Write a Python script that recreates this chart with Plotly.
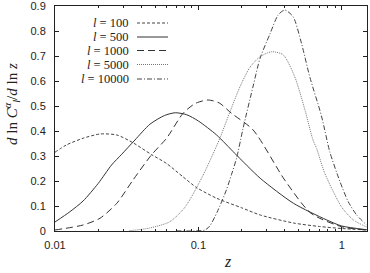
import plotly.graph_objects as go

labels = ["<i>l</i> = 100", "<i>l</i> = 500", "<i>l</i> = 1000", "<i>l</i> = 5000", "<i>l</i> = 10000"]

x_tick_vals = [0.01, 0.1, 1]
x_tick_text = ["0.01", "0.1", "1"]
y_tick_vals = [0, 0.1, 0.2, 0.3, 0.4, 0.5, 0.6, 0.7, 0.8, 0.9]
y_tick_text = ["0", "0.1", "0.2", "0.3", "0.4", "0.5", "0.6", "0.7", "0.8", "0.9"]

z100 = [0.01, 0.012, 0.0157, 0.0206, 0.027, 0.035, 0.047, 0.06, 0.078, 0.097, 0.134, 0.2, 0.27, 0.46, 0.7, 1.0, 1.5]
v100 = [0.315, 0.344, 0.371, 0.388, 0.384, 0.353, 0.306, 0.27, 0.217, 0.174, 0.131, 0.093, 0.064, 0.032, 0.018, 0.01, 0.004]

z500 = [0.01, 0.0127, 0.0157, 0.020, 0.0248, 0.0292, 0.0361, 0.0459, 0.058, 0.069, 0.083, 0.1, 0.134, 0.18, 0.27, 0.46, 0.78, 1.0, 1.5]
v500 = [0.036, 0.077, 0.12, 0.19, 0.264, 0.307, 0.364, 0.427, 0.462, 0.473, 0.465, 0.44, 0.384, 0.31, 0.211, 0.111, 0.045, 0.02, 0.005]

z1000 = [0.01, 0.0157, 0.0206, 0.027, 0.035, 0.047, 0.060, 0.078, 0.095, 0.117, 0.14, 0.17, 0.241, 0.40, 0.61, 1.0, 1.5]
v1000 = [0.004, 0.024, 0.051, 0.111, 0.204, 0.304, 0.371, 0.47, 0.51, 0.524, 0.512, 0.471, 0.404, 0.204, 0.071, 0.017, 0.004]

z5000 = [0.033, 0.0459, 0.0632, 0.0806, 0.108, 0.141, 0.157, 0.195, 0.229, 0.269, 0.324, 0.39, 0.47, 0.55, 0.63, 0.667, 0.761, 0.995, 1.2, 1.5]
v5000 = [0.001, 0.012, 0.037, 0.095, 0.224, 0.37, 0.44, 0.577, 0.655, 0.697, 0.717, 0.705, 0.617, 0.49, 0.364, 0.331, 0.231, 0.097, 0.045, 0.015]

z10000 = [0.07, 0.111, 0.12, 0.135, 0.157, 0.17, 0.1846, 0.205, 0.241, 0.269, 0.315, 0.36, 0.40, 0.458, 0.524, 0.598, 0.722, 0.825, 0.968, 1.11, 1.27, 1.49]
v10000 = [0.0005, 0.004, 0.02, 0.075, 0.165, 0.225, 0.291, 0.411, 0.58, 0.69, 0.787, 0.864, 0.884, 0.857, 0.75, 0.617, 0.46, 0.317, 0.2, 0.117, 0.064, 0.024]

series = [(z100, v100), (z500, v500), (z1000, v1000), (z5000, v5000), (z10000, v10000)]
styles = [
    dict(color="#444", dash="3px,2px"),
    dict(color="#333", dash="solid"),
    dict(color="#333", dash="7px,4px"),
    dict(color="#777", dash="1px,1px"),
    dict(color="#444", dash="5px,2px,1px,2px"),
]

fig = go.Figure()
for (zz, vv), st in zip(series, styles):
    fig.add_trace(go.Scatter(x=zz, y=vv, mode="lines", showlegend=False, hoverinfo="skip",
                             line=dict(color=st["color"], dash=st["dash"], width=1, shape="spline", smoothing=0.7)))

W, H = 370, 273
L, R, T, B = 55, 3, 6, 42
pw, ph = W - L - R, H - T - B

def px(x):
    return (x - L) / pw

def py(y):
    return (H - B - y) / ph

serif = "Liberation Serif"
rows = [23, 37, 50.5, 64.5, 79]
for lab, ry, st in zip(labels, rows, styles):
    fig.add_annotation(text=lab, x=px(131), y=py(ry), xref="paper", yref="paper",
                       xanchor="right", yanchor="middle", showarrow=False,
                       font=dict(family=serif, size=12.5, color="#222"))
    fig.add_shape(type="line", xref="paper", yref="paper", x0=px(137), x1=px(168),
                  y0=py(ry), y1=py(ry), line=dict(color=st["color"], dash=st["dash"], width=1))

fig.add_annotation(text="<i>d</i> ln <i>C</i><sup><i>α</i></sup><sub><i>l</i></sub>/<i>d</i> ln <i>z</i>",
                   x=px(12), y=py(104), xref="paper", yref="paper", textangle=-90,
                   showarrow=False, xanchor="center", yanchor="middle",
                   font=dict(family=serif, size=15, color="#222"))
fig.add_annotation(text="<i>z</i>", x=px(228), y=py(261), xref="paper", yref="paper",
                   showarrow=False, xanchor="center", yanchor="middle",
                   font=dict(family=serif, size=16, color="#222"))

minor_vals = [k * 10 ** e for e in (-2, -1, 0) for k in range(2, 10)]
fig.update_xaxes(type="log", range=[-2, 0.176], tickvals=x_tick_vals, ticktext=x_tick_text,
                 ticks="inside", ticklen=4, showline=True, linecolor="#222", linewidth=1, mirror="ticks",
                 showgrid=False, zeroline=False, tickcolor="#222", automargin=False, ticklabelstandoff=4,
                 minor=dict(ticks="inside", ticklen=2, tickvals=minor_vals, tickcolor="#222", showgrid=False),
                 tickfont=dict(family="Liberation Sans", size=11, color="#222"))
fig.update_yaxes(range=[0, 0.9], tickvals=y_tick_vals, ticktext=y_tick_text, ticks="inside", ticklen=4,
                 showline=True, linecolor="#222", ticklabelstandoff=6,
                 linewidth=1, mirror="ticks", showgrid=False, zeroline=False, tickcolor="#222",
                 automargin=False, ticklabeloverflow="allow",
                 tickfont=dict(family="Liberation Sans", size=11, color="#222"))
fig.update_layout(width=W, height=H, margin=dict(l=L, r=R, t=T, b=B),
                  plot_bgcolor="white", paper_bgcolor="white", hovermode=False)
fig.write_html("out.html", config={"displayModeBar": False, "staticPlot": True},
               post_script="document.body.style.margin='0';document.body.style.overflow='hidden';")
